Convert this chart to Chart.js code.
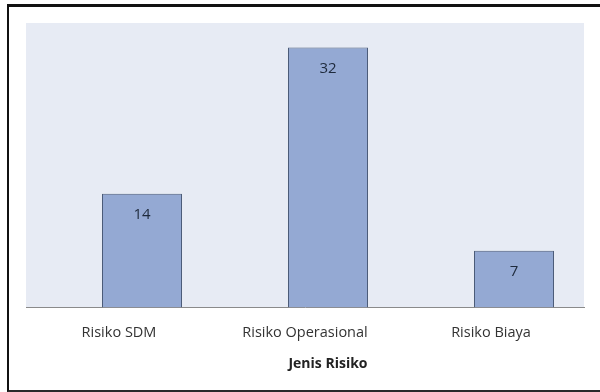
<!DOCTYPE html>
<html>
<head>
<meta charset="utf-8">
<script src="https://cdn.jsdelivr.net/npm/chart.js@4"></script>
<style>
    html, body { margin: 0; padding: 0; background: #fff; }
    #wrap { position: relative; width: 600px; height: 392px; overflow: hidden; }
    #frame {
        position: absolute; left: 7px; top: 4px; width: 640px; height: 383px;
        border-left: 2px solid #111; border-top: 3px solid #111; border-bottom: 2px solid #2a2a2a;
    }
    #chart { position: absolute; left: 0; top: 0; }
</style>
</head>
<body>
<div id="wrap">
    <div id="frame"></div>
    <canvas id="chart" width="600" height="392"></canvas>
</div>
<script>
let categories = ['Risiko SDM', 'Risiko Operasional', 'Risiko Biaya'];
let jumlah = [14, 32, 7];
let kosong = [null, null, null];
let axisTitle = 'Jenis Risiko';

let fontFamily = "'Open Sans', 'Noto Sans', sans-serif";

// plot area fill, value labels inside the bars, axis title
let plotDecor = {
    id: 'plotDecor',
    beforeDraw: (chart) => {
        let ctx = chart.ctx;
        let a = chart.chartArea;
        ctx.save();
        ctx.fillStyle = '#e7ebf4';
        ctx.fillRect(a.left, a.top, a.right - a.left, a.bottom - a.top);
        ctx.restore();
    },
    afterDraw: (chart) => {
        let ctx = chart.ctx;
        let a = chart.chartArea;
        let meta = chart.getDatasetMeta(1);
        ctx.save();
        ctx.fillStyle = '#1e2a3c';
        ctx.font = '15px ' + fontFamily;
        ctx.textAlign = 'center';
        ctx.textBaseline = 'middle';
        meta.data.forEach((bar, i) => {
            ctx.fillText(String(jumlah[i]), bar.x, bar.y + 21);
        });
        ctx.font = 'bold 14px ' + fontFamily;
        ctx.fillStyle = '#222';
        ctx.fillText(axisTitle, (a.left + a.right) / 2 + 23, 364);
        ctx.restore();
    }
};

new Chart(document.getElementById('chart').getContext('2d'), {
    type: 'bar',
    data: {
        labels: categories,
        datasets: [{
            label: '',
            data: kosong,
            backgroundColor: 'rgba(0,0,0,0)',
            borderWidth: 0
        }, {
            label: axisTitle,
            data: jumlah,
            backgroundColor: '#94a9d3',
            borderColor: '#4b5b78',
            borderWidth: 1
        }]
    },
    options: {
        responsive: false,
        animation: false,
        categoryPercentage: 0.4946,
        barPercentage: 1.739,
        layout: {
            padding: { left: 26, right: 16, top: 23, bottom: 41 }
        },
        scales: {
            x: {
                grid: { display: false },
                border: { display: true, color: '#8a8a8a', width: 1 },
                ticks: {
                    color: '#333',
                    padding: 9,
                    font: { family: fontFamily, size: 14.5 }
                }
            },
            y: {
                display: false,
                min: 0,
                max: 35
            }
        },
        plugins: {
            legend: { display: false },
            tooltip: { enabled: false }
        }
    },
    plugins: [plotDecor]
});
</script>
</body>
</html>
